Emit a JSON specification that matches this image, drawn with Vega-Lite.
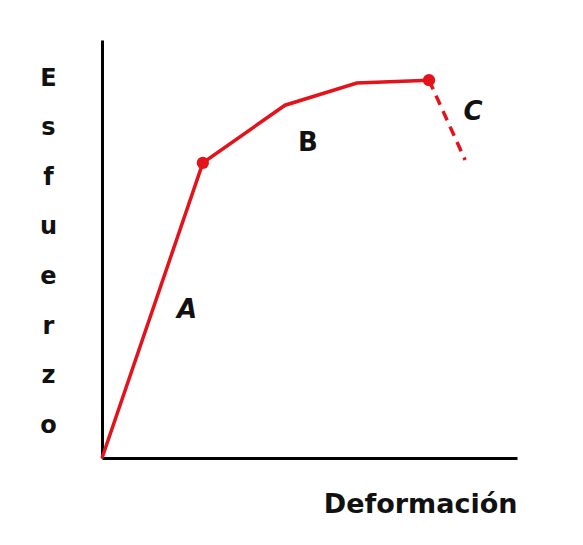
{
  "$schema": "https://vega.github.io/schema/vega-lite/v6.json",
  "width": 415,
  "height": 418,
  "autosize": {"type": "none"},
  "padding": {"left": 102, "top": 40, "right": 66, "bottom": 87},
  "background": "#ffffff",
  "config": {"view": {"stroke": null}},
  "datasets": {
    "curve": [
      {"def": 0, "stress": 0, "seg": "elastic", "dot": false},
      {"def": 24.3, "stress": 70.6, "seg": "elastic", "dot": true},
      {"def": 44.1, "stress": 84.4, "seg": "elastic", "dot": false},
      {"def": 61.4, "stress": 89.7, "seg": "elastic", "dot": false},
      {"def": 78.8, "stress": 90.4, "seg": "elastic", "dot": true},
      {"def": 78.8, "stress": 90.4, "seg": "rupture", "dot": false},
      {"def": 87.5, "stress": 71.3, "seg": "rupture", "dot": false}
    ],
    "labels": [
      {"def": 20.5, "stress": 35.4, "label": "A", "style": "italic"},
      {"def": 49.6, "stress": 75.4, "label": "B", "style": "normal"},
      {"def": 89.4, "stress": 82.8, "label": "C", "style": "italic"}
    ]
  },
  "layer": [
    {
      "data": {"name": "curve"},
      "transform": [{"filter": "datum.seg === 'elastic'"}],
      "mark": {"type": "line", "color": "#e3121b", "strokeWidth": 3.5},
      "encoding": {
        "x": {
          "field": "def", "type": "quantitative",
          "scale": {"domain": [0, 100], "nice": false, "zero": false},
          "axis": {
            "domain": true, "domainColor": "#000000", "domainWidth": 3,
            "ticks": false, "labels": false, "grid": false,
            "title": "Deformación", "titleFont": "DejaVu Sans", "titleFontSize": 27,
            "titleFontWeight": "bold", "titleColor": "#111111",
            "titleAlign": "right", "titleAnchor": null, "titleBaseline": "alphabetic",
            "titleX": 415, "titleY": 54
          }
        },
        "y": {
          "field": "stress", "type": "quantitative",
          "scale": {"domain": [0, 100], "nice": false, "zero": false},
          "axis": {
            "domain": true, "domainColor": "#000000", "domainWidth": 3,
            "ticks": false, "labels": false, "grid": false,
            "title": ["E", "s", "f", "u", "e", "r", "z", "o"],
            "titleFont": "DejaVu Sans", "titleFontSize": 24, "titleFontWeight": "bold",
            "titleColor": "#111111", "titleAngle": 0, "titleAlign": "center",
            "titleBaseline": "alphabetic", "titleLineHeight": 49.6,
            "titleAnchor": null, "titleX": -54, "titleY": 45
          }
        }
      }
    },
    {
      "data": {"name": "curve"},
      "transform": [{"filter": "datum.seg === 'rupture'"}],
      "mark": {"type": "line", "color": "#e3121b", "strokeWidth": 3.5, "strokeDash": [10, 7]},
      "encoding": {
        "x": {"field": "def", "type": "quantitative"},
        "y": {"field": "stress", "type": "quantitative"}
      }
    },
    {
      "data": {"name": "curve"},
      "transform": [{"filter": "datum.dot"}],
      "mark": {"type": "point", "filled": true, "color": "#e3121b", "size": 150, "opacity": 1},
      "encoding": {
        "x": {"field": "def", "type": "quantitative"},
        "y": {"field": "stress", "type": "quantitative"}
      }
    },
    {
      "data": {"name": "labels"},
      "transform": [{"filter": "datum.style === 'normal'"}],
      "mark": {"type": "text", "font": "DejaVu Sans", "fontSize": 26, "fontWeight": "bold", "color": "#111111", "align": "center", "baseline": "middle"},
      "encoding": {
        "x": {"field": "def", "type": "quantitative"},
        "y": {"field": "stress", "type": "quantitative"},
        "text": {"field": "label"}
      }
    },
    {
      "data": {"name": "labels"},
      "transform": [{"filter": "datum.style === 'italic'"}],
      "mark": {"type": "text", "font": "DejaVu Sans", "fontSize": 26, "fontWeight": "bold", "fontStyle": "italic", "color": "#111111", "align": "center", "baseline": "middle"},
      "encoding": {
        "x": {"field": "def", "type": "quantitative"},
        "y": {"field": "stress", "type": "quantitative"},
        "text": {"field": "label"}
      }
    }
  ]
}
